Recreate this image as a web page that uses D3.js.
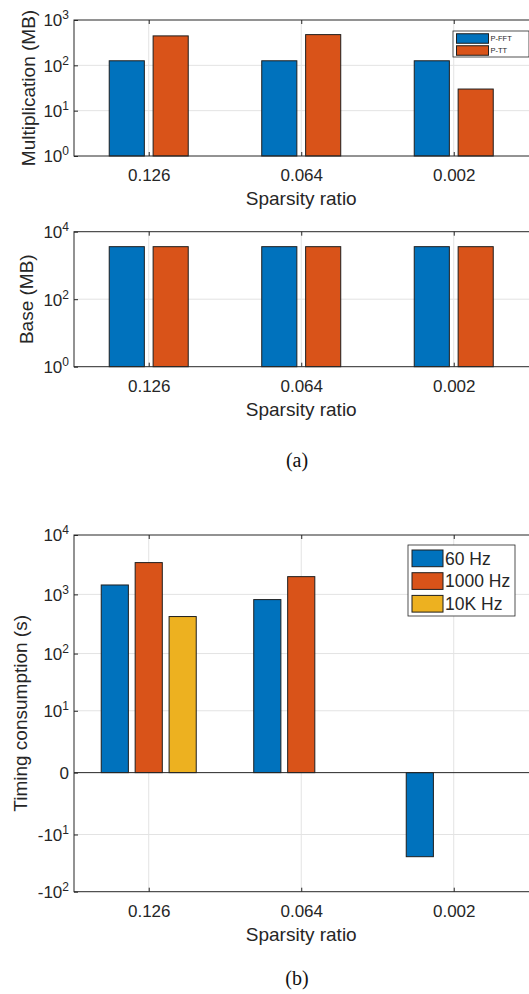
<!DOCTYPE html>
<html>
<head>
<meta charset="utf-8">
<script src="https://cdn.jsdelivr.net/npm/d3@7"></script>
<style>
  body { margin: 0; background: #fff; }
  svg { display: block; font-family: "Liberation Sans", Arial, sans-serif; }
  .grid line { stroke: #e3e3e3; stroke-width: 1; }
  .frame { fill: none; stroke: #262626; stroke-width: 1; }
  .tick-lbl { fill: #262626; font-size: 17px; }
  .axis-title { fill: #262626; font-size: 19px; }
</style>
</head>
<body>
<svg id="fig" width="529" height="994"></svg>
<script>
// values
const categories = ["0.126", "0.064", "0.002"];
const memSeries = ["P-FFT", "P-TT"];
const mulFFT = [126, 126, 126];
const mulTT = [446, 476, 30];
const baseFFT = [3600, 3600, 3600];
const baseTT = [3600, 3600, 3600];
const timeSeries = ["60 Hz", "1000 Hz", "10K Hz"];
const time60 = [1440, 817, -25];
const time1000 = [3430, 1990, 0];
const time10k = [423, 0, 0];
const mulTicks = [1, 10, 100, 1000];
const baseTicks = [1, 100, 10000];
const timeTicks = [-100, -10, 0, 10, 100, 1000, 10000];
const colors = ["#0072BD", "#D95319", "#EDB120"];

const svg = d3.select("#fig");
const left = 74, right = 530;

const x = d3.scaleLinear().domain([0.51, 3.5]).range([left, right]);

function tickText(sel, v) {
  if (v === 0) { sel.text("0"); return; }
  const e = Math.round(Math.log10(Math.abs(v)));
  sel.text(null);
  sel.append("tspan").text((v < 0 ? "-" : "") + "10");
  sel.append("tspan").attr("font-size", 12).attr("dy", -7).text(e);
}

function panel(cfg) {
  const { top, bottom, y, ticks, gridTicks, series, names, gw, base } = cfg;
  const g = svg.append("g");
  const sub = d3.scaleBand().domain(d3.range(series.length))
    .range([-gw / 2, gw / 2]).paddingInner(0.2);

  // grid
  const grid = g.append("g").attr("class", "grid");
  grid.selectAll("line.h").data(gridTicks).join("line").attr("class", "h")
    .attr("x1", left).attr("x2", right)
    .attr("y1", d => y(d)).attr("y2", d => y(d));
  grid.selectAll("line.v").data(categories).join("line").attr("class", "v")
    .attr("x1", (d, i) => x(i + 1)).attr("x2", (d, i) => x(i + 1))
    .attr("y1", top).attr("y2", bottom);

  // bars
  series.forEach((vals, s) => {
    g.append("g").selectAll("rect").data(vals).join("rect")
      .filter(d => d !== 0)
      .attr("x", (d, i) => x(i + 1) + sub(s))
      .attr("width", sub.bandwidth())
      .attr("y", d => Math.min(y(d), y(base)))
      .attr("height", d => Math.abs(y(base) - y(d)))
      .attr("fill", colors[s])
      .attr("stroke", "#1e1e1e").attr("stroke-width", 1);
  });

  if (cfg.baseline) {
    g.append("line").attr("x1", left).attr("x2", right)
      .attr("y1", y(0)).attr("y2", y(0))
      .attr("stroke", "#262626").attr("stroke-width", 1);
  }

  // frame and inward ticks
  g.append("rect").attr("class", "frame")
    .attr("x", left).attr("y", top).attr("width", right - left).attr("height", bottom - top);
  const yAxis = d3.axisLeft(y).tickValues(ticks).tickSize(-4).tickPadding(5).tickFormat("");
  const ya = g.append("g").attr("transform", `translate(${left},0)`).call(yAxis);
  ya.select(".domain").remove();
  ya.selectAll(".tick line").attr("stroke", "#262626");
  ya.selectAll(".tick text")
    .attr("class", "tick-lbl").attr("font-family", null).attr("font-size", null)
    .attr("dy", "0.35em")
    .each(function (d) { tickText(d3.select(this), d); });

  const xAxis = d3.axisBottom(x).tickValues([1, 2, 3]).tickSize(-4).tickPadding(13)
    .tickFormat((d, i) => categories[i]);
  const xa = g.append("g").attr("transform", `translate(0,${bottom})`).call(xAxis);
  xa.select(".domain").remove();
  xa.selectAll(".tick line").attr("stroke", "#262626");
  xa.selectAll(".tick text").attr("class", "tick-lbl")
    .attr("font-family", null).attr("font-size", null);
  const xt = d3.axisTop(x).tickValues([1, 2, 3]).tickSize(-4).tickFormat("");
  const xta = g.append("g").attr("transform", `translate(0,${top})`).call(xt);
  xta.select(".domain").remove();
  xta.selectAll(".tick line").attr("stroke", "#262626");

  g.append("text").attr("class", "axis-title")
    .attr("x", (x(1) + x(3)) / 2).attr("y", bottom + 49)
    .attr("text-anchor", "middle").text("Sparsity ratio");
  g.append("text").attr("class", "axis-title")
    .attr("transform", `translate(${cfg.ylabelX},${(top + bottom) / 2}) rotate(-90)`)
    .attr("text-anchor", "middle").text(cfg.ylabel);

  if (cfg.legend) {
    const L = cfg.legend;
    const lg = g.append("g").attr("transform", `translate(${L.x},${L.y})`);
    lg.append("rect").attr("width", L.w).attr("height", L.h)
      .attr("fill", "#fff").attr("stroke", "#262626").attr("stroke-width", 0.8);
    names.forEach((n, i) => {
      const cy = L.pad + L.row * (i + 0.5);
      lg.append("rect").attr("x", L.sx).attr("y", cy - L.sh / 2)
        .attr("width", L.sw).attr("height", L.sh)
        .attr("fill", colors[i]).attr("stroke", "#1e1e1e").attr("stroke-width", 1);
      lg.append("text").attr("x", L.sx + L.sw + 2).attr("y", cy).attr("dy", "0.36em")
        .attr("font-size", L.fs).attr("fill", "#262626").text(n);
    });
  }
}

panel({
  top: 20, bottom: 156,
  y: d3.scaleLog().domain([1, 1000]).range([156, 20]),
  ticks: mulTicks, gridTicks: [10, 100], base: 1,
  series: [mulFFT, mulTT], names: memSeries, gw: 79,
  ylabel: "Multiplication (MB)", ylabelX: 35,
  legend: { x: 453, y: 31, w: 76, h: 26, pad: 1.5, row: 12, sx: 3.5, sw: 32, sh: 9.5, fs: 7.5 }
});

panel({
  top: 231.7, bottom: 366.7,
  y: d3.scaleLog().domain([1, 10000]).range([366.7, 231.7]),
  ticks: baseTicks, gridTicks: [100], base: 1,
  series: [baseFFT, baseTT], names: memSeries, gw: 79,
  ylabel: "Base (MB)", ylabelX: 33
});

panel({
  top: 535, bottom: 891.7,
  y: d3.scaleSymlog().constant(1).domain([-100, 10000]).range([891.7, 535]),
  ticks: timeTicks, gridTicks: [-10, 10, 100, 1000], base: 0, baseline: true,
  series: [time60, time1000, time10k], names: timeSeries, gw: 95,
  ylabel: "Timing consumption (s)", ylabelX: 27,
  legend: { x: 408, y: 545, w: 107, h: 71, pad: 2, row: 22.7, sx: 4, sw: 31, sh: 16.7, fs: 17.5 }
});

svg.append("text").attr("x", 297).attr("y", 467).attr("text-anchor", "middle")
  .attr("font-family", "'Liberation Serif', 'Times New Roman', serif")
  .attr("font-size", 20).attr("fill", "#111").text("(a)");
svg.append("text").attr("x", 297).attr("y", 985).attr("text-anchor", "middle")
  .attr("font-family", "'Liberation Serif', 'Times New Roman', serif")
  .attr("font-size", 20).attr("fill", "#111").text("(b)");
</script>
</body>
</html>
